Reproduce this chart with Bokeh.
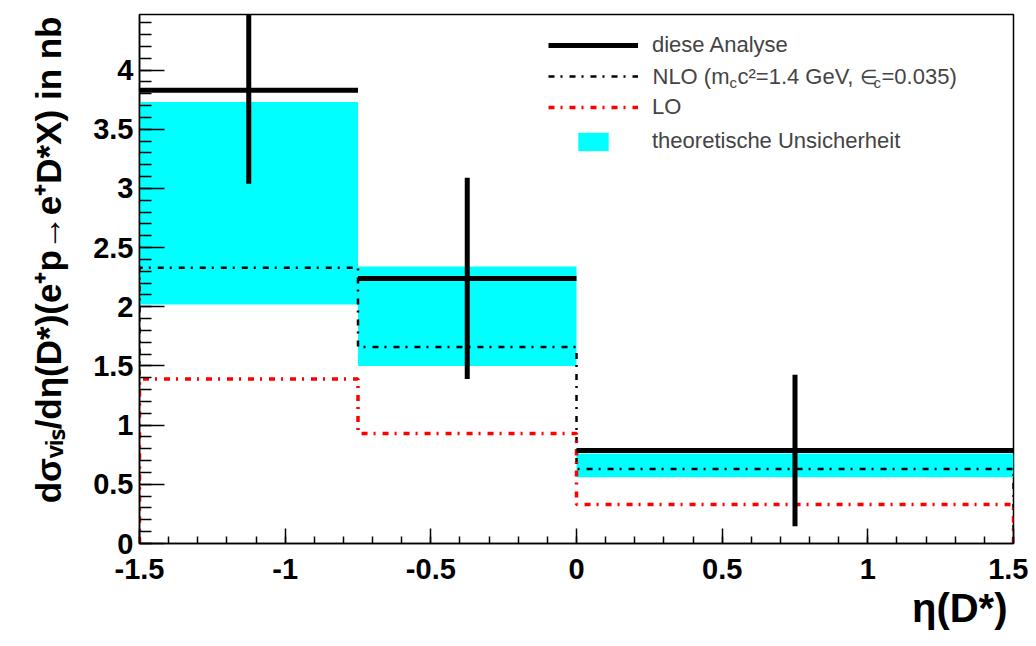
from bokeh.plotting import figure
from bokeh.models import (Range1d, SingleIntervalTicker, NumeralTickFormatter,
                          Legend, LegendItem, Label, Title)
from bokeh.embed import file_html
from bokeh.resources import INLINE

# ---- data ----
edges = [-1.5, -0.75, 0.0, 1.5]
data_vals = [3.83, 2.24, 0.785]
data_err = [0.79, 0.85, 0.64]
nlo_vals = [2.33, 1.66, 0.63]
lo_vals = [1.39, 0.93, 0.33]
band_lo = [2.02, 1.50, 0.56]
band_hi = [3.73, 2.34, 0.76]

FONT = "Liberation Sans"

def step_path(edges, vals):
    xs, ys = [edges[0]], [0.0]
    for i, v in enumerate(vals):
        xs += [edges[i], edges[i + 1]]
        ys += [v, v]
    xs.append(edges[-1]); ys.append(0.0)
    return xs, ys

p = figure(width=1028, height=646, x_range=Range1d(-1.5, 1.5), y_range=Range1d(0, 4.47),
           output_backend="svg", toolbar_location=None,
           min_border_left=139, min_border_right=15, min_border_top=14, min_border_bottom=103)
p.grid.visible = False
p.outline_line_color = "black"
p.outline_line_width = 1.5

left = edges[:-1]
right = edges[1:]
centers = [(a + b) / 2 for a, b in zip(left, right)]

band = p.quad(left=left, right=right, bottom=band_lo, top=band_hi,
              fill_color="#00ffff", line_color=None)

xs, ys = step_path(edges, nlo_vals)
nlo = p.line(xs, ys, line_color="black", line_width=2.5, line_dash="6 6 2 7")
xs, ys = step_path(edges, lo_vals)
lo = p.line(xs, ys, line_color="#ff0000", line_width=3.5, line_dash="6 6 2 7")

dat_h = p.segment(x0=left, x1=right, y0=data_vals, y1=data_vals,
                  line_color="black", line_width=5)
p.segment(x0=centers, x1=centers,
          y0=[v - e for v, e in zip(data_vals, data_err)],
          y1=[v + e for v, e in zip(data_vals, data_err)],
          line_color="black", line_width=5)

# axes
for ax, tl in ((p.xaxis, 15), (p.yaxis, 25)):
    ax.major_tick_in = tl
    ax.major_tick_out = 0
    ax.minor_tick_in = tl // 2
    ax.minor_tick_out = 0
    ax.axis_line_width = 1.5
    ax.major_tick_line_width = 1.5
    ax.minor_tick_line_width = 1.5
    ax.major_label_text_font = FONT
    ax.major_label_text_font_style = "bold"
    ax.major_label_text_font_size = "29px"
    ax.major_label_text_color = "black"
    ax.formatter = NumeralTickFormatter(format="0.[0]")
p.xaxis.ticker = SingleIntervalTicker(interval=0.5, num_minor_ticks=5)
p.yaxis.ticker = SingleIntervalTicker(interval=0.5, num_minor_ticks=5)
p.xaxis.major_label_standoff = 15
p.yaxis.major_label_standoff = 6

# y axis title (rotated, on the left)
p.add_layout(Title(text="dσᵥᵢₛ/dη(D*)(e⁺p→e⁺D*X) in nb", align="right",
                   text_font=FONT, text_font_style="bold", text_font_size="35px",
                   text_color="black", standoff=45, offset=2), "left")

# x axis title (bottom right)
p.add_layout(Title(text="η(D*)", align="right",
                   text_font=FONT, text_font_style="bold", text_font_size="40px",
                   text_color="black", standoff=5, offset=6), "below")

legend = Legend(items=[
    LegendItem(label="diese Analyse", renderers=[dat_h]),
    LegendItem(label=" ", renderers=[nlo]),
    LegendItem(label="LO", renderers=[lo]),
], location=(409, 423), glyph_width=90, glyph_height=26, label_height=26,
    spacing=5, padding=0, margin=0, label_standoff=14,
    label_text_font=FONT, label_text_font_size="22px",
    border_line_alpha=0, background_fill_alpha=0)
p.add_layout(legend, "center")

legend2 = Legend(items=[
    LegendItem(label="theoretische Unsicherheit", renderers=[band], index=0),
], location=(435, 389), glyph_width=38, glyph_height=23, label_height=26,
    spacing=0, padding=0, margin=0, label_standoff=40,
    label_text_font=FONT, label_text_font_size="22px",
    border_line_alpha=0, background_fill_alpha=0)
p.add_layout(legend2, "center")

# NLO label pieces (sub/superscripts)
pieces = [("NLO (m", 0, 0, "22px"), ("c", 77, -6, "15px"), ("c²=1.4 GeV,", 85, 0, "22px"),
          ("∈", 207, 0, "20px"), ("c", 221, -6, "15px"), ("=0.035)", 229, 0, "22px")]
for t, dx, dy, fs in pieces:
    p.add_layout(Label(x=513 + dx, y=467 + dy, x_units="screen", y_units="screen",
                       text=t, text_baseline="middle", text_font=FONT,
                       text_font_size=fs))

open("out.html", "w").write(file_html(p, INLINE))
